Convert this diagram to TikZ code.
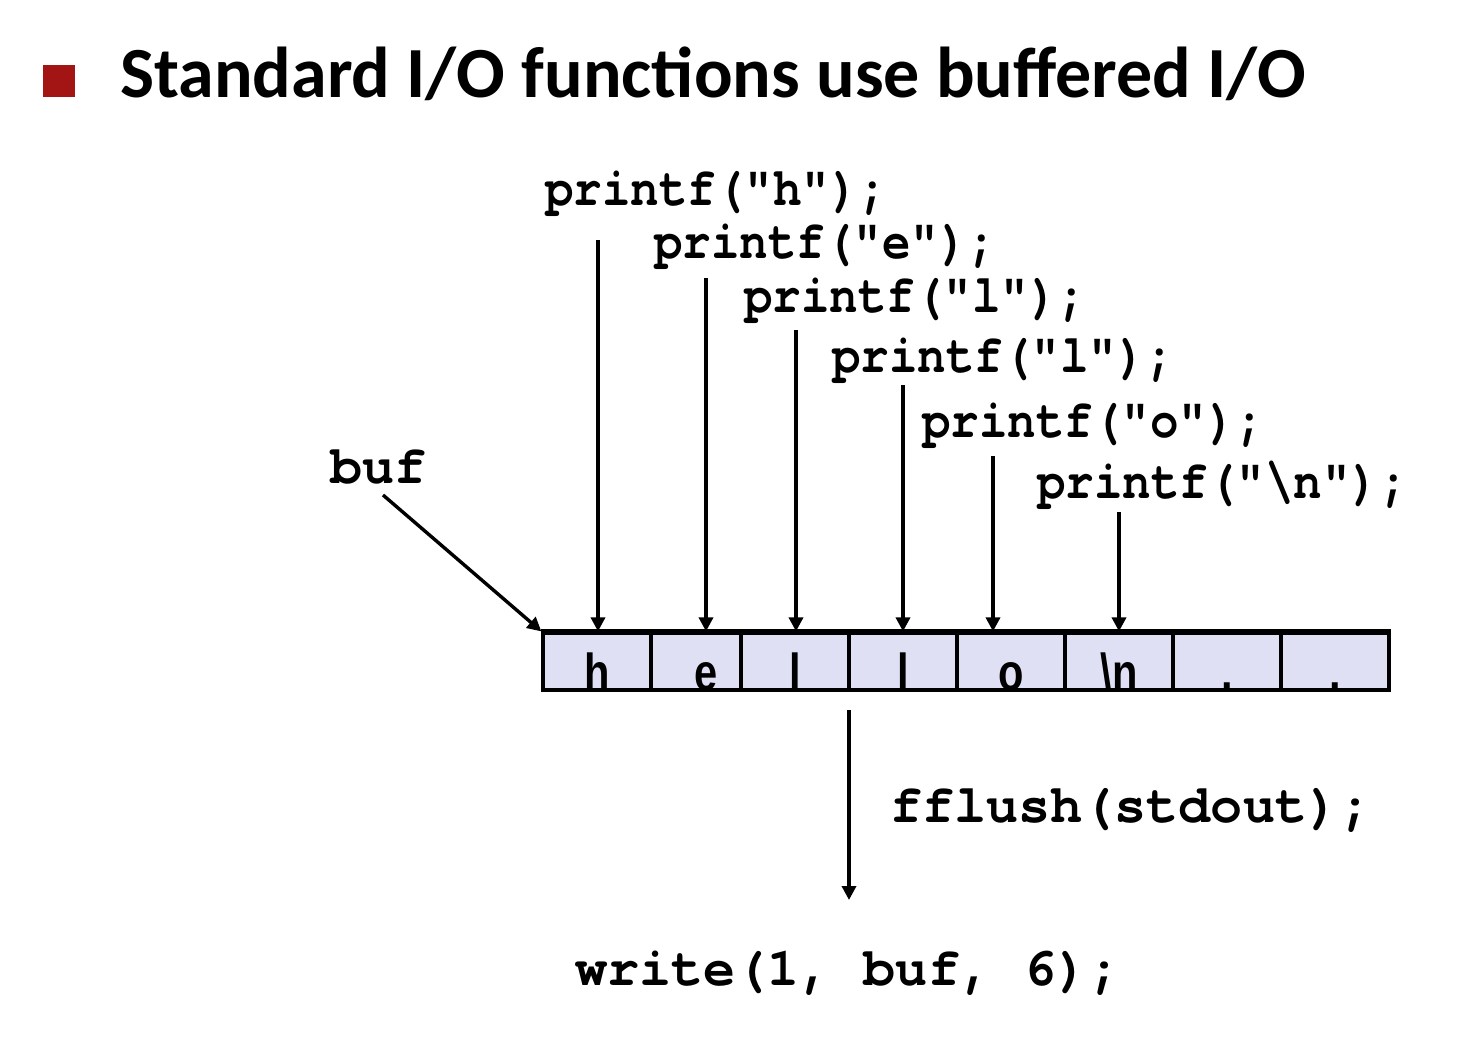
\documentclass[tikz,border=0pt]{standalone}
\usepackage{fontspec}
\setmainfont{Liberation Sans}
\setmonofont{texgyrecursor}[Extension=.otf, UprightFont=*-regular, BoldFont=*-bold, Ligatures=NoCommon]
\newfontfamily\titlefont{Carlito}
\usetikzlibrary{arrows.meta}
\definecolor{bulletred}{HTML}{A31515}
\definecolor{cellfill}{HTML}{E0E0F5}
\newcommand{\codeA}[1]{\scalebox{0.88}[1]{\ttfamily\bfseries #1}}
\newcommand{\codeB}[1]{\scalebox{0.99}[1]{\ttfamily\bfseries #1}}
\newcommand{\cellch}[1]{\scalebox{0.8}[1]{\bfseries #1}}
\tikzset{
  arr/.style={line width=3.4pt, -{Triangle[length=14pt,width=14pt]}},
  cell/.style={draw, line width=3.2pt, fill=cellfill, minimum height=57pt,
    inner sep=0pt, text height=57pt, text depth=0pt,
    font=\fontsize{52}{60}\selectfont},
  codetext/.style={anchor=base west, inner sep=0pt, font=\fontsize{54}{60}\selectfont},
}
\begin{document}
\begin{tikzpicture}[x=1pt,y=-1pt]
\useasboundingbox (0,0) rectangle (1480,1036);
% title
\fill[bulletred] (43,65) rectangle (75,97);
\node[anchor=base west, inner sep=0pt, font=\titlefont\bfseries\fontsize{72}{84}\selectfont] (title) at (120,97) {Standard I/O functions use buffered I/O};
% buffer cells
\node[cell, minimum width=108pt] (c1) at (597,661.5) {\cellch{h}};
\node[cell, minimum width=90pt]  (c2) at (696,661.5) {\hspace*{20pt}\cellch{e}};
\node[cell, minimum width=108pt] (c3) at (795,661.5) {\cellch{l}};
\node[cell, minimum width=108pt] (c4) at (903,661.5) {\cellch{l}};
\node[cell, minimum width=108pt] (c5) at (1011,661.5) {\cellch{o}};
\node[cell, minimum width=108pt] (c6) at (1119,661.5) {\cellch{\textbackslash n}};
\node[cell, minimum width=108pt] (c7) at (1227,661.5) {\cellch{.}};
\node[cell, minimum width=108pt] (c8) at (1335,661.5) {\cellch{.}};
\draw[line width=5pt] (c1.north west) -- (c8.north east);
% printf labels
\node[codetext] (ph)  at (545,205)  {\codeA{printf("h");}};
\node[codetext] (pe)  at (654,258)  {\codeA{printf("e");}};
\node[codetext] (pl1) at (744,312)  {\codeA{printf("l");}};
\node[codetext] (pl2) at (832,372)  {\codeA{printf("l");}};
\node[codetext] (po)  at (922,437)  {\codeA{printf("o");}};
\node[codetext] (pn)  at (1037,498) {\codeA{printf("\textbackslash n");}};
\node[codetext] (buf) at (330,483)  {\codeB{buf}};
\node[codetext] (ff)  at (890,822)  {\codeB{f{}f{}lush(stdout);}};
\node[codetext] (wr)  at (575,985)  {\codeB{write(1, buf, 6);}};
% arrow start points
\coordinate (sh) at (598,240);
\coordinate (se) at (706,278);
\coordinate (sl1) at (796,330);
\coordinate (sl2) at (903,385);
\coordinate (so) at (993,456);
\coordinate (sn) at (1119,512);
\draw[arr] (sh) -- (sh |- c1.north);
\draw[arr] (se) -- (se |- c2.north);
\draw[arr] (sl1) -- (sl1 |- c3.north);
\draw[arr] (sl2) -- (sl2 |- c4.north);
\draw[arr] (so) -- (so |- c5.north);
\draw[arr] (sn) -- (sn |- c6.north);
\coordinate (bufstart) at (383,495);
\draw[arr] (bufstart) -- (c1.north west);
\coordinate (flushtop) at (849,710);
\coordinate (flushbot) at (849,900);
\draw[arr] (flushtop) -- (flushbot);
\end{tikzpicture}
\end{document}
